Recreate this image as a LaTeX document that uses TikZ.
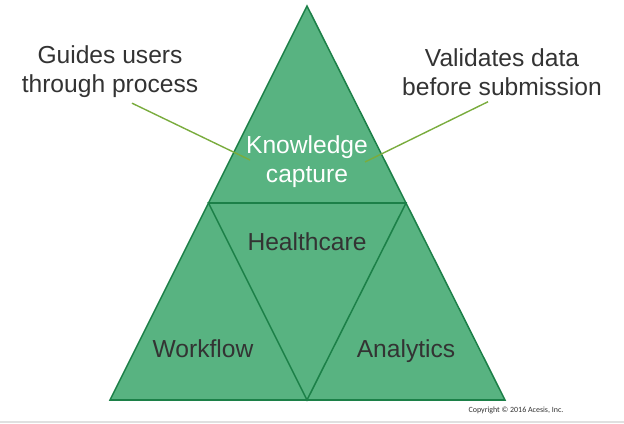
\documentclass[tikz,border=0pt]{standalone}
\usepackage{fontspec}
\setmainfont{Liberation Sans}
\newfontfamily\smallfont{Carlito}
\usepackage{tikz}
\definecolor{pyrfill}{RGB}{88,179,129}
\definecolor{pyredge}{RGB}{28,128,72}
\definecolor{leadgreen}{RGB}{122,172,62}
\definecolor{textgray}{RGB}{51,51,51}
\tikzset{
  pyrline/.style={draw=pyredge, line width=1.3pt, line join=miter},
  lbl/.style={text=textgray, font=\fontsize{21}{24.7}\selectfont, align=center, inner sep=0pt},
  leader/.style={draw=leadgreen, line width=1.2pt}
}

\begin{document}
\begin{tikzpicture}[x=0.03cm, y=-0.03cm]
\useasboundingbox (0,0) rectangle (624,423);
\fill[black!12] (0,421) rectangle (624,423);
\coordinate (TA) at (307,6);
\coordinate (TL) at (110,400);
\coordinate (TR) at (505,400);
\coordinate (ML) at (208.5,203);
\coordinate (MR) at (406,203);
\coordinate (MB) at (307,400);
\fill[pyrfill] (TA) -- (TR) -- (TL) -- cycle;
\draw[pyrline] (TA) -- (TR) -- (TL) -- cycle;
\draw[pyrline] (ML) -- (MR) -- (MB) -- cycle;
\node[lbl, text=white] (KC) at (307,162) {Knowledge\\capture};
\node[lbl, anchor=base] (HC) at (307,250) {Healthcare};
\node[lbl, anchor=base] (WF) at (203,357) {Workflow};
\node[lbl, anchor=base] (AN) at (406,357) {Analytics};
\node[lbl] (GU) at (110,72) {Guides users\\through process};
\node[lbl] (VD) at (502,72) {Validates data\\before submission};
\coordinate (GUend) at (250,160);
\coordinate (VDend) at (365,162);
\draw[leader] (GU.south -| 132,0) ++(0,5) -- (GUend);
\draw[leader] (VD.south -| 488,0) ++(0,6) -- (VDend);
\node[text=textgray, font=\smallfont\fontsize{6.8}{8}\selectfont, inner sep=0pt, anchor=base] (CR) at (516,412) {Copyright \textcopyright{} 2016 Acesis, Inc.};
\end{tikzpicture}
\end{document}
